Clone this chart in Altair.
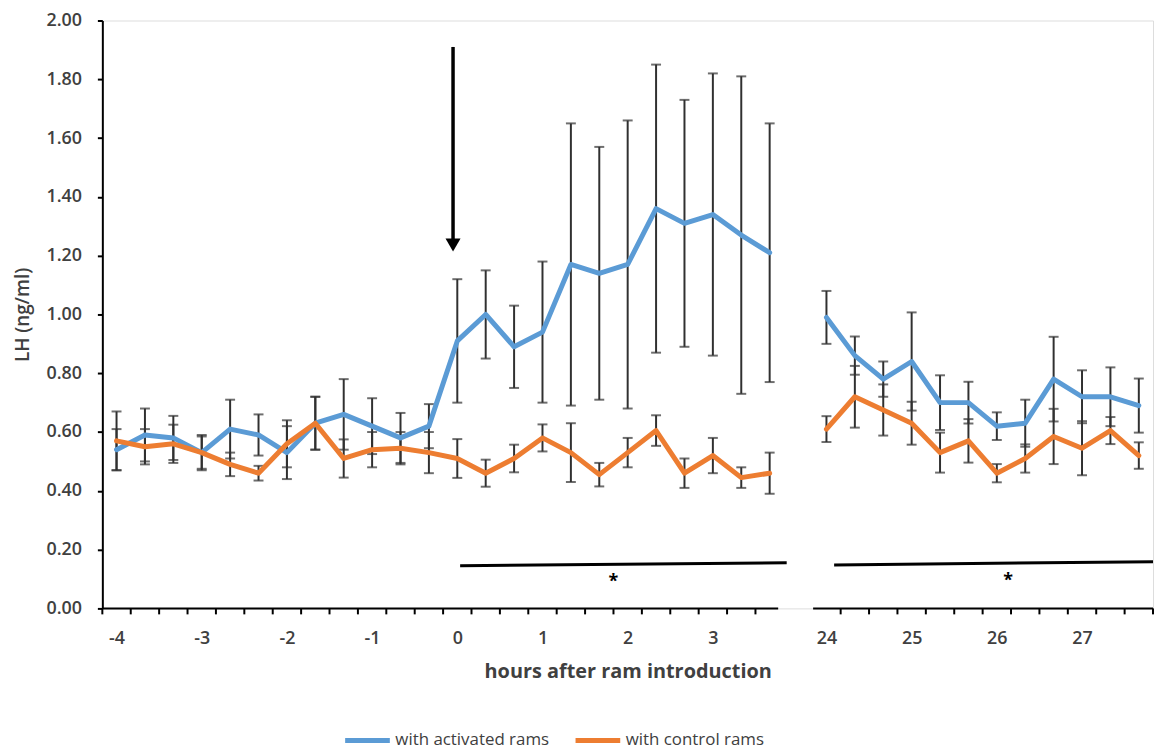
import altair as alt
import pandas as pd

# ---- data ----
hours_pre = ["-4", "-3.67", "-3.33", "-3", "-2.67", "-2.33", "-2", "-1.67", "-1.33", "-1", "-0.67", "-0.33",
             "0", "0.33", "0.67", "1", "1.33", "1.67", "2", "2.33", "2.67", "3", "3.33", "3.67"]
hours_post = ["24", "24.33", "24.67", "25", "25.33", "25.67", "26", "26.33", "26.67", "27", "27.33", "27.67"]

activated_pre = [0.54, 0.59, 0.58, 0.53, 0.61, 0.59, 0.53, 0.63, 0.66, 0.62, 0.58, 0.62,
                 0.91, 1.00, 0.89, 0.94, 1.17, 1.14, 1.17, 1.36, 1.31, 1.34, 1.27, 1.21]
activated_pre_err = [0.07, 0.09, 0.075, 0.06, 0.10, 0.07, 0.09, 0.09, 0.12, 0.095, 0.085, 0.075,
                     0.21, 0.15, 0.14, 0.24, 0.48, 0.43, 0.49, 0.49, 0.42, 0.48, 0.54, 0.44]
control_pre = [0.57, 0.55, 0.56, 0.53, 0.49, 0.46, 0.56, 0.63, 0.51, 0.54, 0.545, 0.53,
               0.51, 0.46, 0.51, 0.58, 0.53, 0.455, 0.53, 0.605, 0.46, 0.52, 0.445, 0.46]
control_pre_err = [0.10, 0.06, 0.065, 0.055, 0.04, 0.025, 0.08, 0.09, 0.065, 0.06, 0.055, 0.07,
                   0.066, 0.046, 0.047, 0.046, 0.10, 0.04, 0.05, 0.052, 0.05, 0.06, 0.035, 0.07]

activated_post = [0.99, 0.86, 0.78, 0.84, 0.70, 0.70, 0.62, 0.63, 0.78, 0.72, 0.72, 0.69]
activated_post_err = [0.09, 0.065, 0.06, 0.167, 0.093, 0.071, 0.047, 0.08, 0.144, 0.09, 0.10, 0.092]
control_post = [0.61, 0.72, 0.675, 0.63, 0.53, 0.57, 0.46, 0.51, 0.585, 0.545, 0.605, 0.52]
control_post_err = [0.044, 0.105, 0.087, 0.073, 0.068, 0.074, 0.031, 0.048, 0.094, 0.092, 0.046, 0.045]

x_tick_labels = ["-4", "-3", "-2", "-1", "0", "1", "2", "3", "24", "25", "26", "27"]
series_names = ["with activated rams", "with control rams"]
series_colors = ["#5B9BD5", "#ED7D31"]

# significance bars / asterisks / arrow (slot position, LH)
sig_x = [12.1, 25.27]
sig_x2 = [23.6, 36.5]
sig_y = [0.145, 0.148]
sig_y2 = [0.155, 0.159]
star_x = [17.5, 31.4]
star_y = [0.09, 0.094]
arrow_x = [11.85]
arrow_top = [1.91]
arrow_bottom = [1.25]
arrow_head_y = [1.236]

# ---- build tables ----
GAP = 25  # slot index where the post-ram block starts
pos_pre = list(range(len(hours_pre)))
pos_post = [GAP + i for i in range(len(hours_post))]

rows = []
for name, vals, errs, seg in [
    (series_names[0], activated_pre, activated_pre_err, "a"),
    (series_names[1], control_pre, control_pre_err, "a"),
]:
    for p, h, v, e in zip(pos_pre, hours_pre, vals, errs):
        rows.append(dict(pos=p, hour=h, series=name, seg=seg, value=v, lo=v - e, hi=v + e))
for name, vals, errs, seg in [
    (series_names[0], activated_post, activated_post_err, "b"),
    (series_names[1], control_post, control_post_err, "b"),
]:
    for p, h, v, e in zip(pos_post, hours_post, vals, errs):
        rows.append(dict(pos=p, hour=h, series=name, seg=seg, value=v, lo=v - e, hi=v + e))
df = pd.DataFrame(rows)

label_pos = [hours_pre.index(l) for l in x_tick_labels[:8]] + \
            [GAP + hours_post.index(l) for l in x_tick_labels[8:]]
label_map = ", ".join(f"'{p}': '{l}'" for p, l in zip(label_pos, x_tick_labels))
label_expr = "{" + label_map + "}[toString(datum.value)]"

tick_pos = [p - 0.5 for p in pos_pre] + [p + 0.5 for p in pos_post]
ticks_df = pd.DataFrame({"pos": tick_pos})
domain_df = pd.DataFrame({"x": [-0.5, 24.53], "x2": [23.3, 36.5]})
sig_df = pd.DataFrame({"x": sig_x, "x2": sig_x2, "y": sig_y, "y2": sig_y2})
star_df = pd.DataFrame({"x": star_x, "y": star_y, "t": ["*", "*"]})
arrow_df = pd.DataFrame({"x": arrow_x, "y": arrow_top, "y2": arrow_bottom, "yh": arrow_head_y})

FONT = "Open Sans"
GREY = "#404040"
TOP = 10
W, H = 1058, 592

xscale = alt.Scale(domain=[-0.5, 36.5], nice=False, zero=False)
yscale = alt.Scale(domain=[0, 2], nice=False)

xaxis = alt.Axis(values=label_pos, labelExpr=label_expr, domain=False, ticks=False, tickSize=0,
                 grid=False, labelPadding=21, labelFontSize=18, labelFont=FONT, labelFontWeight=600,
                 labelColor=GREY, title="hours after ram introduction", titleFont=FONT,
                 titleFontSize=20, titleFontWeight="bold", titleColor=GREY, titleY=64,
                 titleBaseline="middle", labelFlush=False, labelOverlap=False)
yaxis = alt.Axis(values=[0, 0.2, 0.4, 0.6, 0.8, 1.0, 1.2, 1.4, 1.6, 1.8, 2.0], format=".2f",
                 grid=False, domainColor="black", domainWidth=2, tickColor="black", tickWidth=2,
                 tickSize=5, labelPadding=16, labelFontSize=18, labelFont=FONT, labelFontWeight=600,
                 labelColor=GREY, title="LH (ng/ml)", titleFont=FONT, titleFontSize=19,
                 titleFontWeight=600, titleColor=GREY, titleX=-80, titleY=H / 2,
                 titleAngle=270, titleBaseline="middle", titleAlign="center", labelFlush=False)

base = alt.Chart(df)

err_rule = base.mark_rule(color="#303030", strokeWidth=2).encode(
    x=alt.X("pos:Q", scale=xscale, axis=xaxis),
    y=alt.Y("lo:Q", scale=yscale, axis=yaxis),
    y2="hi:Q",
)
cap_lo = base.mark_tick(orient="horizontal", color="#303030", size=10, thickness=2).encode(
    x="pos:Q", y="lo:Q")
cap_hi = base.mark_tick(orient="horizontal", color="#303030", size=10, thickness=2).encode(
    x="pos:Q", y="hi:Q")

lines = base.mark_line(strokeWidth=5, strokeJoin="round", strokeCap="round").encode(
    x="pos:Q",
    y="value:Q",
    color=alt.Color("series:N", scale=alt.Scale(domain=series_names, range=series_colors),
                    legend=alt.Legend(title=None, orient="none", legendX=242, legendY=700,
                                      direction="horizontal", symbolType="stroke",
                                      symbolStrokeWidth=5, symbolSize=2025, labelFontSize=17,
                                      labelFont=FONT, labelColor=GREY, labelOffset=3,
                                      columnPadding=16, padding=0)),
    detail="seg:N",
)

xticks = alt.Chart(ticks_df).mark_rule(color="black", strokeWidth=2).encode(
    x="pos:Q", y=alt.value(H), y2=alt.value(H + 6))
xdomain = alt.Chart(domain_df).mark_rule(color="black", strokeWidth=2).encode(
    x="x:Q", x2="x2:Q", y=alt.value(H))

sig = alt.Chart(sig_df).mark_rule(color="black", strokeWidth=3).encode(
    x="x:Q", x2="x2:Q", y="y:Q", y2="y2:Q")
stars = alt.Chart(star_df).mark_text(fontSize=18, fontWeight="bold", color="black",
                                     baseline="middle", font=FONT).encode(
    x="x:Q", y="y:Q", text="t:N")

arrow_line = alt.Chart(arrow_df).mark_rule(color="black", strokeWidth=3.5).encode(
    x="x:Q", y="y:Q", y2="y2:Q")
arrow_head = alt.Chart(arrow_df).mark_point(shape="triangle-down", filled=True, color="black",
                                            size=230, opacity=1).encode(
    x="x:Q", y="yh:Q")

chart = alt.layer(err_rule, cap_lo, cap_hi, lines, xticks, xdomain, sig, stars, arrow_line,
                  arrow_head).properties(
    width=W, height=H,
    autosize=alt.AutoSizeParams(type="none"),
    padding={"left": 95, "top": TOP, "right": 2, "bottom": 142},
).configure_view(stroke=None).configure(background="white")

chart.save("out.html", embed_options={"renderer": "svg", "actions": False})
